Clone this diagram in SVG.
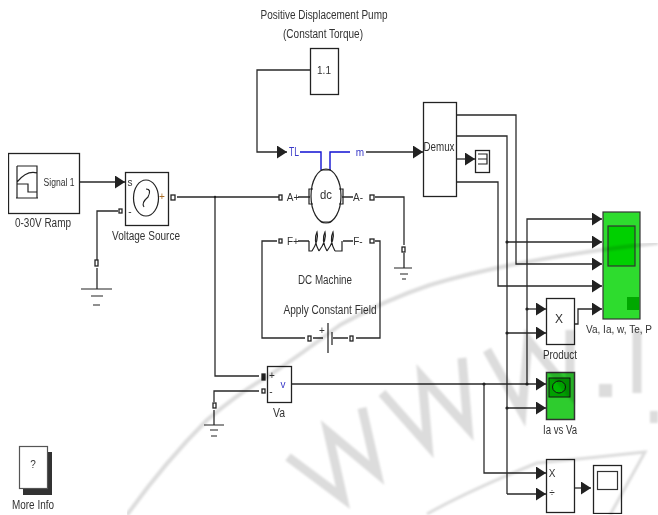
<svg xmlns="http://www.w3.org/2000/svg" width="658" height="515" viewBox="0 0 658 515">
<style>
text{font-family:"Liberation Sans",Arial,sans-serif;font-size:12px;fill:#333;text-anchor:middle;dominant-baseline:central}
.sm{font-size:10px}
.blue{fill:#3a3ac8}
.box{fill:#fff;stroke:#222;stroke-width:1.3}
.w{fill:none;stroke:#2a2a2a;stroke-width:1.3}
.a{marker-end:url(#arr)}
.bw{fill:none;stroke:#1414d2;stroke-width:1.4}
.port{fill:#fff;stroke:#222;stroke-width:1.3}
.g{fill:none;stroke:#222;stroke-width:1.2}
.wm{fill:none;stroke:#dcdcdc;stroke-linejoin:miter}
.dot{fill:#222}
</style>
<defs>
<marker id="arr" markerUnits="userSpaceOnUse" markerWidth="11" markerHeight="13" refX="10" refY="6.500" orient="auto"><path d="M0 0L10 6.500L0 13Z" fill="#222"/></marker>
<filter id="soft" x="0" y="0" width="100%" height="100%"><feGaussianBlur stdDeviation="0.35"/></filter>
<filter id="softer" x="0" y="0" width="100%" height="100%"><feGaussianBlur stdDeviation="0.8"/></filter>
</defs>
<rect width="658" height="515" fill="#fff"/>
<g filter="url(#soft)">
<g id="connectors">
<path class="w a" d="M310 70H257V152H287"/>
<path class="w a" d="M366 152H423"/>
<path class="bw" d="M300 152H321V170M350 152H330V170"/>
<path class="w a" d="M78 182H125"/>
<path class="w" d="M118 211H97V260M97 268V289"/>
<path class="w" d="M177 197H279M215 197V376H259"/>
<path class="w" d="M259 391H214V402M214 410V425"/>
<path class="w" d="M298 197H310M342 197H353M375 197H404V245M404 253V268"/>
<path class="w" d="M277 241H262V338H305M313 338H323M333 338H348M356 338H380V241H375"/>
<path class="w" d="M298 241H309M343 241H353"/>
<path class="w a" d="M456 115H516V264H602"/>
<path class="w" d="M456 136H507V494"/>
<path class="w a" d="M507 242H602"/>
<path class="w a" d="M507 333H546"/>
<path class="w a" d="M507 408H546"/>
<path class="w a" d="M507 494H546"/>
<path class="w a" d="M456 159H475"/>
<path class="w a" d="M456 182H498V286H602"/>
<path class="w a" d="M527 384V219H602"/>
<path class="w a" d="M527 309H546"/>
<path class="w a" d="M574 324H578V309H602"/>
<path class="w a" d="M292 384H546"/>
<path class="w a" d="M484 384V473H546"/>
<path class="w a" d="M574 488H591"/>
<circle class="dot" cx="507" cy="242" r="1.6"/><circle class="dot" cx="507" cy="333" r="1.6"/><circle class="dot" cx="507" cy="408" r="1.6"/><circle class="dot" cx="527" cy="309" r="1.6"/><circle class="dot" cx="527" cy="384" r="1.6"/><circle class="dot" cx="484" cy="384" r="1.6"/><circle class="dot" cx="215" cy="197" r="1.2"/>
</g>
<g id="ramp">
<rect class="box" x="8.500" y="153.500" width="71" height="60"/>
<path class="g" d="M17 166H37V198M17 166V198M17 182Q27 170 37 173M17 184H28V192H37M16 198H38"/>
<text x="59" y="182" textLength="31" lengthAdjust="spacingAndGlyphs" class="sm">Signal 1</text>
<text x="43" y="223" textLength="56" lengthAdjust="spacingAndGlyphs">0-30V Ramp</text>
</g>
<g id="voltage-source">
<rect class="box" x="125.500" y="172.500" width="43" height="53"/>
<ellipse class="g" cx="146" cy="198" rx="12.500" ry="18"/>
<path class="g" d="M146 189Q152 189 148 197Q141 203 144 207"/>
<text x="130" y="182" class="sm" textLength="5" lengthAdjust="spacingAndGlyphs">s</text>
<text x="162" y="196" class="sm" style="fill:#a86a20">+</text>
<text x="130" y="211" class="sm">-</text>
<rect class="port" x="171" y="195" width="4" height="5"/>
<rect class="port" x="119" y="209" width="3" height="4"/>
<text x="146" y="236" textLength="68" lengthAdjust="spacingAndGlyphs">Voltage Source</text>
</g>
<g id="ground-source">
<rect class="port" x="95" y="260" width="3" height="6"/>
<path class="g" d="M81 289H112M91 296H103M93 305H100"/>
</g>
<g id="pump">
<rect class="box" x="310.500" y="48.500" width="28" height="46"/>
<text x="324" y="70" class="sm">1.1</text>
<text x="324" y="15" textLength="127" lengthAdjust="spacingAndGlyphs">Positive Displacement Pump</text>
<text x="323" y="34" textLength="80" lengthAdjust="spacingAndGlyphs">(Constant Torque)</text>
</g>
<g id="dc-machine">
<ellipse class="g" cx="326" cy="196" rx="15" ry="27"/>
<path class="g" d="M313 189H309V204H313M339 189H343V204H339M321 170H331M321 222H331"/>
<text x="326" y="195" textLength="12" lengthAdjust="spacingAndGlyphs">dc</text>
<text x="294" y="152" class="blue" textLength="10" lengthAdjust="spacingAndGlyphs">TL</text>
<text x="360" y="152" class="blue sm">m</text>
<text x="293" y="197" class="sm">A+</text>
<text x="358" y="197" class="sm">A-</text>
<rect class="port" x="279" y="195" width="3" height="5"/>
<rect class="port" x="370" y="195" width="4" height="5"/>
<text x="293" y="241" class="sm">F+</text>
<text x="358" y="241" class="sm">F-</text>
<rect class="port" x="279" y="239" width="3" height="4"/>
<rect class="port" x="370" y="239" width="4" height="4"/>
<path class="g" d="M309 241V251H312M312 251Q319 240 317 232Q313 240 319 251M319 251Q327 240 325 232Q321 240 327 251M327 251Q335 240 333 232Q329 240 335 251M335 251H342V241"/>
<text x="325" y="280" textLength="54" lengthAdjust="spacingAndGlyphs">DC Machine</text>
<text x="330" y="310" textLength="93" lengthAdjust="spacingAndGlyphs">Apply Constant Field</text>
</g>
<g id="battery">
<rect class="port" x="308" y="336" width="3" height="5"/>
<rect class="port" x="350" y="336" width="3" height="5"/>
<path class="g" d="M328 323V353M332 332V345"/>
<text x="322" y="330" class="sm">+</text>
</g>
<g id="ground-machine">
<rect class="port" x="402" y="247" width="3" height="5"/>
<path class="g" d="M394 268H412M400 274H408M402 279H406"/>
</g>
<g id="voltmeter">
<rect class="box" x="267.500" y="366.500" width="24" height="36"/>
<rect class="port" x="262" y="374" width="3" height="6" style="fill:#222"/>
<rect class="port" x="262" y="389" width="3" height="4"/>
<text x="272" y="375" class="sm">+</text>
<text x="271" y="391" class="sm">-</text>
<text x="283" y="384" class="blue sm">v</text>
<text x="279" y="413" textLength="12" lengthAdjust="spacingAndGlyphs">Va</text>
</g>
<g id="ground-va">
<rect class="port" x="213" y="403" width="3" height="5"/>
<path class="g" d="M204 425H224M210 430H218M211 436H217"/>
</g>
<g id="demux">
<rect class="box" x="423.500" y="102.500" width="33" height="94"/>
<text x="439" y="147" textLength="31" lengthAdjust="spacingAndGlyphs">Demux</text>
</g>
<g id="terminator">
<rect class="box" x="475.500" y="150.500" width="14" height="22"/>
<path class="g" d="M478 154H487V164H478M478 159H487"/>
</g>
<g id="scope-main">
<rect x="603" y="212" width="37" height="107" fill="#2fdc2f" stroke="#333" stroke-width="1.200"/>
<rect x="608" y="226" width="27" height="40" fill="#00d000" stroke="#333" stroke-width="1.200"/>
<rect x="627" y="297" width="12" height="13" fill="#00a800"/>
<text x="619" y="329" class="sm" textLength="66" lengthAdjust="spacingAndGlyphs">Va, Ia, w, Te, P</text>
</g>
<g id="product">
<rect class="box" x="546.500" y="298.500" width="28" height="46"/>
<text x="559" y="319">X</text>
<text x="560" y="355" textLength="34" lengthAdjust="spacingAndGlyphs">Product</text>
</g>
<g id="xy-scope">
<rect x="546.500" y="372.500" width="28" height="47" fill="#2fcc2f" stroke="#333" stroke-width="1.500"/>
<rect x="549" y="378" width="21" height="19" fill="#00a000" stroke="#111" stroke-width="1"/>
<ellipse cx="559" cy="387" rx="6.500" ry="6" fill="#00b800" stroke="#111" stroke-width="1"/>
<text x="560" y="430" textLength="34" lengthAdjust="spacingAndGlyphs">Ia vs Va</text>
</g>
<g id="divide">
<rect class="box" x="546.500" y="459.500" width="28" height="53"/>
<text x="552" y="473" class="sm">X</text>
<text x="552" y="492" class="sm">÷</text>
</g>
<g id="scope-small">
<rect class="box" x="593.500" y="465.500" width="28" height="48"/>
<rect x="597.500" y="471.500" width="20" height="18" fill="#fff" stroke="#333" stroke-width="1.200"/>
</g>
<g id="more-info">
<rect x="23" y="452" width="29" height="43" fill="#333"/>
<rect x="19.500" y="446.500" width="28" height="42" fill="#fff" stroke="#555" stroke-width="1.200"/>
<text x="33" y="464" class="sm">?</text>
<text x="33" y="505" textLength="42" lengthAdjust="spacingAndGlyphs">More Info</text>
</g>
</g>
<g id="watermark" filter="url(#softer)" style="mix-blend-mode:multiply">
<path class="wm" stroke-width="4" d="M127 515Q165 462 207 420Q240 392 267 377Q300 355 340 325Q385 300 430 285Q520 258 658 243"/>
<path class="wm" stroke-width="3" d="M427 514Q470 490 537 463Q590 458 645 452L610 515"/>
<path class="wm" stroke-width="9" d="M288 457L343 498L328 432L377 473L362 408"/>
<path class="wm" stroke-width="9" d="M382 393L428 445L422 377L468 428L462 358"/>
<path class="wm" stroke-width="9" d="M487 350L522 412L528 340L570 392L570 330"/>
<path class="wm" stroke-width="9" d="M637 330V393"/>
<rect x="599" y="384" width="13" height="13" fill="#dcdcdc"/>
<rect x="650" y="411" width="8" height="12" fill="#dcdcdc"/>
</g>
</svg>
